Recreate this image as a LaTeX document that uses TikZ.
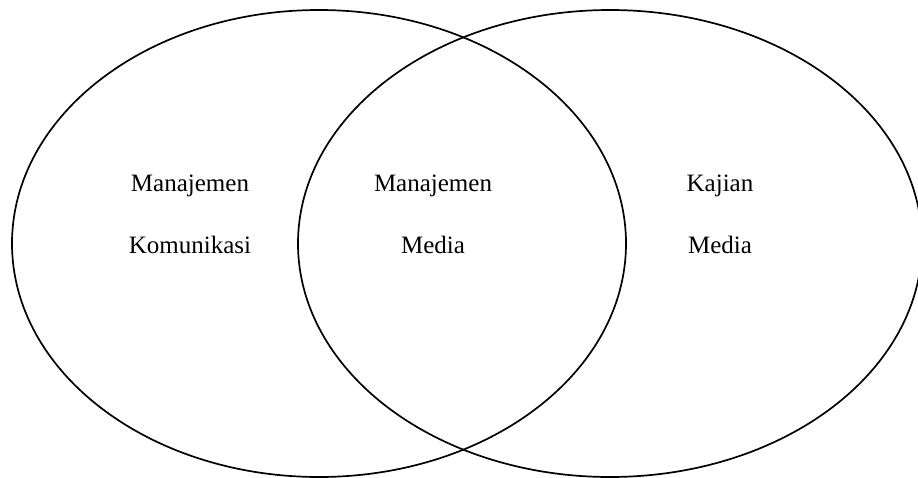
\documentclass[tikz,border=0pt]{standalone}
\usepackage{fontspec}
\setmainfont{Liberation Serif}
\usetikzlibrary{shapes.geometric}
\begin{document}
\begin{tikzpicture}[x=1pt,y=-1pt,
    lingkaran/.style={ellipse, draw, line width=1.7pt, inner sep=0pt},
    label/.style={align=center, font=\fontsize{25}{62}\selectfont}]
    \useasboundingbox (0,0) rectangle (918,477);
    % dua elips
    \node[lingkaran, minimum width=614pt, minimum height=467pt] (kiri) at (319,243.5) {};
    \node[lingkaran, minimum width=624pt, minimum height=467pt] (kanan) at (610,243.5) {};
    % teks
    \node[label] (komunikasi) at (190,214) {Manajemen\\Komunikasi};
    \node[label] (manmedia) at (433,214) {Manajemen\\Media};
    \node[label] (kajian) at (720,214) {Kajian\\Media};
\end{tikzpicture}
\end{document}
